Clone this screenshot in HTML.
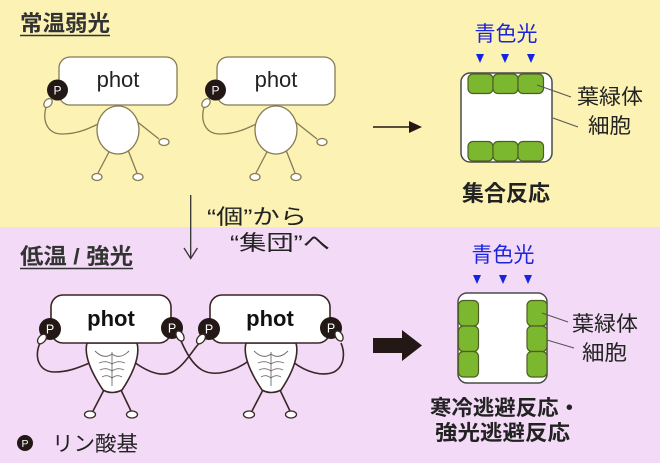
<!DOCTYPE html>
<html><head><meta charset="utf-8">
<style>
html,body{margin:0;padding:0;background:#fff;}
svg{display:block;}
text{font-family:"Liberation Sans","Noto Sans CJK JP",sans-serif;}
</style></head>
<body>
<svg width="660" height="463" viewBox="0 0 660 463" xmlns="http://www.w3.org/2000/svg">
<rect x="0" y="0" width="660" height="227" fill="#fbf2b3"/>
<rect x="0" y="227" width="660" height="236" fill="#f3daf6"/>

<!-- Titles -->
<text x="20" y="31" font-size="22" font-weight="bold" fill="#333" textLength="90" lengthAdjust="spacingAndGlyphs">常温弱光</text>
<line x1="20" y1="35.5" x2="110" y2="35.5" stroke="#333" stroke-width="1.5"/>
<text x="20" y="264" font-size="22" font-weight="bold" fill="#333" textLength="113" lengthAdjust="spacingAndGlyphs">低温 / 強光</text>
<line x1="20" y1="268.5" x2="133" y2="268.5" stroke="#333" stroke-width="1.5"/>

<!-- Top figures -->
<g id="tf" stroke="#857b55" stroke-width="1.3" fill="#fff">
  <path d="M46,107 C42,122 48,134 62,134 C78,134 90,128 98,124" fill="none"/>
  <line x1="135" y1="120" x2="159" y2="139"/>
  <line x1="110" y1="150" x2="98" y2="173"/>
  <line x1="128" y1="150" x2="137" y2="173"/>
  <ellipse cx="118" cy="130" rx="21" ry="24"/>
  <ellipse cx="164" cy="142" rx="5" ry="3.5"/>
  <ellipse cx="97" cy="177" rx="5" ry="3.5"/>
  <ellipse cx="138" cy="177" rx="5" ry="3.5"/>
  <rect x="59" y="57" width="118" height="48" rx="11"/>
  <circle cx="57.5" cy="90" r="10.5" fill="#231815" stroke="none"/>
  <ellipse cx="48" cy="103" rx="3.5" ry="5" transform="rotate(40 48 103)"/>
  <text x="57.5" y="94.5" font-size="12" fill="#fff" stroke="none" text-anchor="middle">P</text>
  <text x="118" y="87" font-size="22" fill="#222" stroke="none" text-anchor="middle">phot</text>
</g>
<use href="#tf" transform="translate(158 0)"/>

<!-- Top arrow -->
<line x1="373" y1="127" x2="411" y2="127" stroke="#231815" stroke-width="1.5"/>
<polygon points="409,121 422,127 409,133" fill="#231815"/>

<!-- Top cell -->
<text x="506" y="41" font-size="21" fill="#1c24dc" text-anchor="middle">青色光</text>
<g fill="#1424e0">
  <polygon points="476,54 484,54 480,63"/>
  <polygon points="501,54 509,54 505,63"/>
  <polygon points="527,54 535,54 531,63"/>
</g>
<rect x="461" y="73" width="91" height="89" rx="9" fill="#fff" stroke="#4b4b4b" stroke-width="1.5"/>
<g fill="#7cb82f" stroke="#4e5e23" stroke-width="1.2">
  <rect x="468" y="74" width="25" height="19.5" rx="5"/>
  <rect x="493" y="74" width="25" height="19.5" rx="5"/>
  <rect x="518" y="74" width="25.5" height="19.5" rx="5"/>
  <rect x="468" y="141.5" width="25" height="19.5" rx="5"/>
  <rect x="493" y="141.5" width="25" height="19.5" rx="5"/>
  <rect x="518" y="141.5" width="25.5" height="19.5" rx="5"/>
</g>
<line x1="537" y1="85" x2="571" y2="97" stroke="#555" stroke-width="1"/>
<line x1="553" y1="118" x2="578" y2="127" stroke="#555" stroke-width="1"/>
<text x="577" y="104" font-size="21" fill="#222" textLength="66" lengthAdjust="spacingAndGlyphs">葉緑体</text>
<text x="588" y="133" font-size="21" fill="#222" textLength="43" lengthAdjust="spacingAndGlyphs">細胞</text>
<text x="462" y="201" font-size="22" font-weight="bold" fill="#222" textLength="88" lengthAdjust="spacingAndGlyphs">集合反応</text>

<!-- Down arrow and middle text -->
<line x1="190.7" y1="195" x2="190.7" y2="258" stroke="#333" stroke-width="1.3"/>
<polyline points="184,248 190.7,258.5 197.4,248" fill="none" stroke="#333" stroke-width="1.3"/>
<text x="207" y="224" font-size="21" fill="#222" textLength="100" lengthAdjust="spacingAndGlyphs">“個”から</text>
<text x="230" y="250" font-size="21" fill="#222" textLength="100" lengthAdjust="spacingAndGlyphs">“集団”へ</text>

<!-- Bottom figures -->
<g stroke="#3a2626" stroke-width="1.6" fill="none">
  <path d="M40,343 C34,356 38,372 55,372 C70,372 82,366 92,362"/>
  <path d="M134,362 C145,370 158,377 170,373 C181,369 189,356 196,347 L201,341"/>
  <path d="M181,341 C186,352 192,364 202,370 C214,377 234,372 250,360"/>
  <path d="M293,362 C306,372 322,377 334,372 C345,366 345,352 341,343"/>
</g>
<g id="bf" stroke="#3a2626" stroke-width="1.6" fill="#fff">
  <line x1="105" y1="388" x2="93" y2="411"/>
  <line x1="120" y1="388" x2="131" y2="411"/>
  <ellipse cx="90" cy="414.5" rx="5.5" ry="3.5" stroke-width="1.3"/>
  <ellipse cx="132" cy="414.5" rx="5.5" ry="3.5" stroke-width="1.3"/>
  <path d="M87,343 C83,358 95,378 103,390 Q112,395 122,390 C130,378 141,358 137,343 Z"/>
  <g stroke="#6a6a6a" stroke-width="0.9" fill="none">
    <path d="M112,352 L112,386"/>
    <path d="M95,351 Q104,360 112,354 Q120,360 129,351"/>
    <path d="M99,363 Q106,360 112,364 Q118,360 125,363"/>
    <path d="M100,370 Q106,367 112,371 Q118,367 124,370"/>
    <path d="M102,377 Q107,374 112,378 Q117,374 122,377"/>
  </g>
  <rect x="51" y="295" width="120" height="48" rx="12"/>
  <circle cx="50" cy="329" r="11" fill="#231815" stroke="none"/>
  <circle cx="172" cy="328" r="11" fill="#231815" stroke="none"/>
  <ellipse cx="42" cy="339" rx="3.5" ry="5.5" transform="rotate(40 42 339)" stroke-width="1.3"/>
  <ellipse cx="180" cy="336" rx="3.5" ry="5.5" transform="rotate(-30 180 336)" stroke-width="1.3"/>
  <text x="50" y="333.5" font-size="12.5" fill="#fff" stroke="none" text-anchor="middle">P</text>
  <text x="172" y="332.5" font-size="12.5" fill="#fff" stroke="none" text-anchor="middle">P</text>
  <text x="111" y="326" font-size="22" font-weight="bold" fill="#111" stroke="none" text-anchor="middle">phot</text>
</g>
<use href="#bf" transform="translate(159 0)"/>

<!-- Legend -->
<circle cx="25" cy="443" r="8" fill="#231815"/>
<text x="25" y="447" font-size="10.5" fill="#fff" text-anchor="middle">P</text>
<text x="52" y="451" font-size="21" fill="#222" textLength="86" lengthAdjust="spacingAndGlyphs">リン酸基</text>

<!-- Bottom thick arrow -->
<rect x="373" y="338" width="31" height="15" fill="#231815"/>
<polygon points="402,330 422,345.5 402,361" fill="#231815"/>

<!-- Bottom cell -->
<text x="503" y="262" font-size="21" fill="#1c24dc" text-anchor="middle">青色光</text>
<g fill="#1424e0">
  <polygon points="473,275 481,275 477,284"/>
  <polygon points="499,275 507,275 503,284"/>
  <polygon points="524,275 532,275 528,284"/>
</g>
<rect x="458" y="293" width="89" height="90" rx="9" fill="#fff" stroke="#4b4b4b" stroke-width="1.5"/>
<g fill="#7cb82f" stroke="#4e5e23" stroke-width="1.2">
  <rect x="458.5" y="300.5" width="20" height="25.5" rx="5"/>
  <rect x="458.5" y="326" width="20" height="25.5" rx="5"/>
  <rect x="458.5" y="351.5" width="20" height="25.5" rx="5"/>
  <rect x="527" y="300.5" width="20" height="25.5" rx="5"/>
  <rect x="527" y="326" width="20" height="25.5" rx="5"/>
  <rect x="527" y="351.5" width="20" height="25.5" rx="5"/>
</g>
<line x1="542" y1="313" x2="568" y2="322" stroke="#555" stroke-width="1"/>
<line x1="547" y1="340" x2="574" y2="348" stroke="#555" stroke-width="1"/>
<text x="572" y="331" font-size="21" fill="#222" textLength="66" lengthAdjust="spacingAndGlyphs">葉緑体</text>
<text x="582" y="360" font-size="21" fill="#222" textLength="45" lengthAdjust="spacingAndGlyphs">細胞</text>
<text x="430" y="415" font-size="21" font-weight="bold" fill="#222" textLength="150" lengthAdjust="spacingAndGlyphs">寒冷逃避反応・</text>
<text x="435" y="440" font-size="21" font-weight="bold" fill="#222" textLength="135" lengthAdjust="spacingAndGlyphs">強光逃避反応</text>
</svg>
</body></html>
